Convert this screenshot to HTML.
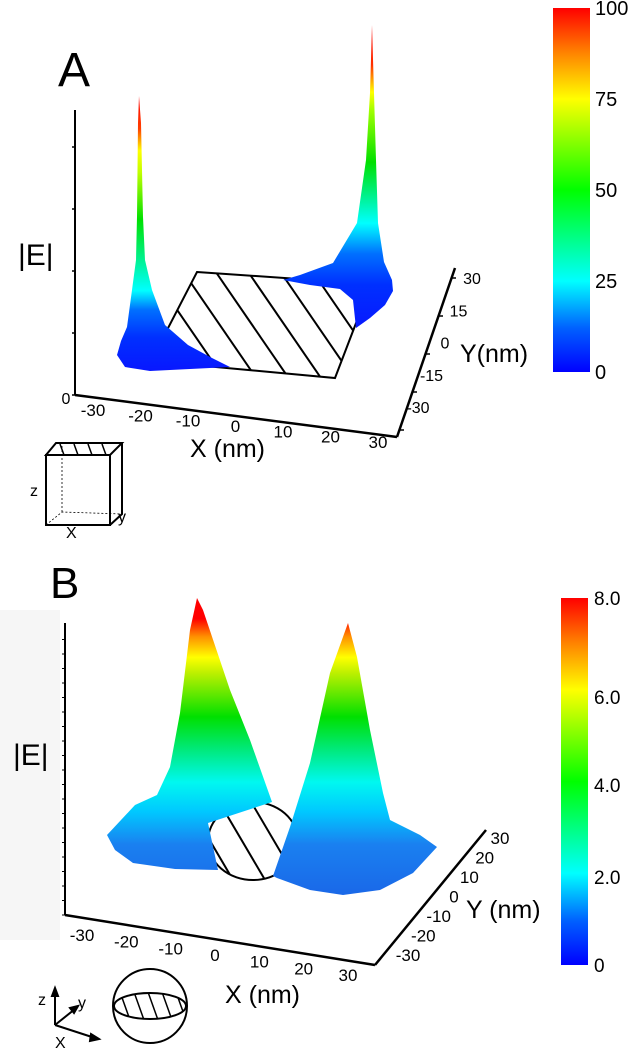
<!DOCTYPE html>
<html><head><meta charset="utf-8"><style>
html,body{margin:0;padding:0;background:#fff}
svg{display:block;font-family:"Liberation Sans",Arial,sans-serif}
</style></head><body>
<svg id="fig" width="636" height="1050" viewBox="0 0 636 1050">
<defs>
<linearGradient id="jetV" x1="0" y1="1" x2="0" y2="0">
<stop offset="0" stop-color="#0000ff"/><stop offset="0.12" stop-color="#0060ff"/><stop offset="0.25" stop-color="#00ffff"/><stop offset="0.5" stop-color="#00ff00"/><stop offset="0.75" stop-color="#ffff00"/><stop offset="0.88" stop-color="#ff8000"/><stop offset="1" stop-color="#ff0000"/>
</linearGradient>
<linearGradient id="gAL" gradientUnits="userSpaceOnUse" x1="0" y1="370" x2="0" y2="96">
<stop offset="0" stop-color="#0818ff"/><stop offset="0.12" stop-color="#0030ff"/><stop offset="0.22" stop-color="#0070ff"/><stop offset="0.29" stop-color="#00ffff"/><stop offset="0.55" stop-color="#00e000"/><stop offset="0.72" stop-color="#c0ff00"/><stop offset="0.8" stop-color="#ffff00"/><stop offset="0.88" stop-color="#ff4000"/><stop offset="1" stop-color="#ff0000"/>
</linearGradient>
<linearGradient id="gAR" gradientUnits="userSpaceOnUse" x1="0" y1="330" x2="0" y2="25">
<stop offset="0" stop-color="#0818ff"/><stop offset="0.15" stop-color="#0030ff"/><stop offset="0.25" stop-color="#0070ff"/><stop offset="0.35" stop-color="#00ffff"/><stop offset="0.55" stop-color="#00e000"/><stop offset="0.72" stop-color="#a0ff00"/><stop offset="0.78" stop-color="#ffff00"/><stop offset="0.87" stop-color="#ff3000"/><stop offset="1" stop-color="#ff0000"/>
</linearGradient>
<linearGradient id="gB" gradientUnits="userSpaceOnUse" x1="0" y1="895" x2="0" y2="598">
<stop offset="0" stop-color="#1a68e8"/><stop offset="0.17" stop-color="#1a80f0"/><stop offset="0.28" stop-color="#00c8ff"/><stop offset="0.38" stop-color="#00f8f0"/><stop offset="0.5" stop-color="#00e870"/><stop offset="0.6" stop-color="#00e000"/><stop offset="0.75" stop-color="#c0f000"/><stop offset="0.8" stop-color="#ffff00"/><stop offset="0.87" stop-color="#ff9000"/><stop offset="0.93" stop-color="#ff0000"/>
</linearGradient>
<clipPath id="clipPar"><polygon points="197,272 371,284 335,378 151,361"/></clipPath>
<clipPath id="clipEll"><ellipse cx="253" cy="841" rx="45" ry="39"/></clipPath>
<clipPath id="clipSph"><ellipse cx="150" cy="1006" rx="36" ry="13"/></clipPath>
</defs>

<rect x="0" y="610" width="60" height="330" fill="#f6f6f6"/>

<!-- Panel A -->
<text x="58" y="86" font-size="48">A</text>
<line x1="75" y1="110" x2="75" y2="395" stroke="#000" stroke-width="2"/>
<text x="18" y="265" font-size="30">|E|</text>
<line x1="75" y1="395" x2="397" y2="437" stroke="#000" stroke-width="2.5"/>
<line x1="397" y1="437" x2="455" y2="268" stroke="#000" stroke-width="2.5"/>
<text x="66" y="404" font-size="16" text-anchor="middle">0</text>
<text x="190" y="457" font-size="25">X (nm)</text>
<text x="460" y="362" font-size="25">Y(nm)</text>

<g>
<polygon points="197,272 371,284 335,378 151,361" fill="#fff" stroke="#000" stroke-width="2"/>
<g id="hatchA" clip-path="url(#clipPar)" stroke="#000" stroke-width="2"></g>
</g>
<polygon fill="url(#gAL)" points="139,96 141,123 143,217 145,260 152,290 165,325 188,345 212,358 230,367 190,369 150,371 125,367 117,355 121,341 127,327 132,290 136,260 137,217 138,123"/>
<polygon fill="url(#gAR)" points="372,25 374,93 376,160 378,223 384,262 392,280 393,291 385,305 370,318 356,328 353,300 340,289 310,285 283,280 300,275 333,263 357,223 366,160 370,93"/>

<rect x="553" y="8" width="37" height="364" fill="url(#jetV)"/>
<g id="cbA"></g>
<g id="axA"></g>

<!-- cube icon -->
<g stroke="#000" fill="none">
<polygon points="46,455 56,443 122,443 110,455" stroke-width="2" fill="#fff"/>
<g stroke-width="1.5"><line x1="60" y1="444" x2="64" y2="455"/><line x1="74" y1="444" x2="78" y2="455"/><line x1="88" y1="444" x2="92" y2="455"/><line x1="102" y1="444" x2="106" y2="455"/></g>
<rect x="46" y="455" width="64" height="70" stroke-width="2"/>
<polyline points="110,525 122,514 122,443" stroke-width="2"/>
<polyline points="46,525 62,512 122,514" stroke-width="0.8" stroke-dasharray="2,2"/>
<line x1="62" y1="512" x2="62" y2="445" stroke-width="0.8" stroke-dasharray="2,2"/>
<text x="30" y="496" font-size="16" fill="#000" stroke="none">z</text>
<text x="66" y="538" font-size="16" fill="#000" stroke="none">X</text>
<text x="118" y="522" font-size="16" fill="#000" stroke="none">y</text>
</g>

<!-- Panel B -->
<text x="50" y="598" font-size="44">B</text>
<line x1="65" y1="623" x2="65" y2="915" stroke="#000" stroke-width="2"/>
<text x="13" y="765" font-size="30">|E|</text>
<line x1="65" y1="915" x2="375" y2="965" stroke="#000" stroke-width="2.5"/>
<line x1="375" y1="965" x2="486" y2="830" stroke="#000" stroke-width="2.5"/>
<text x="225" y="1003" font-size="25">X (nm)</text>
<text x="466" y="918" font-size="25">Y (nm)</text>

<g>
<ellipse cx="253" cy="841" rx="45" ry="39" fill="#fff" stroke="#000" stroke-width="2"/>
<g id="hatchB" clip-path="url(#clipEll)" stroke="#000" stroke-width="2"></g>
</g>
<polygon fill="url(#gB)" points="197,598 190,630 180,713 170,767 157,795 135,805 107,835 115,850 133,863 175,869 218,870 208,823 272,802 250,740 230,690 203,610"/>
<polygon fill="url(#gB)" points="348,623 330,673 310,763 290,827 273,876 277,878 310,890 343,895 380,890 413,873 437,847 420,835 390,820 383,793 370,730 357,657"/>

<rect x="561" y="598" width="27" height="367" fill="url(#jetV)"/>
<g id="cbB"></g>
<g id="axB"></g>

<!-- sphere icon -->
<g stroke="#000" fill="none" stroke-width="2">
<line x1="55" y1="1025" x2="55" y2="993"/><polygon points="55,988 52,996 58,996" fill="#000"/>
<line x1="55" y1="1025" x2="75" y2="1009"/><polygon points="78,1006 70,1008 74,1013" fill="#000"/>
<line x1="55" y1="1025" x2="95" y2="1038"/><polygon points="99,1039 91,1034 90,1041" fill="#000"/>
<text x="38" y="1005" font-size="16" fill="#000" stroke="none">z</text>
<text x="78" y="1008" font-size="16" fill="#000" stroke="none">y</text>
<text x="55" y="1048" font-size="16" fill="#000" stroke="none">X</text>
<ellipse cx="150" cy="1006" rx="37" ry="37"/>
<ellipse cx="150" cy="1006" rx="36" ry="13" fill="#fff"/>
<g clip-path="url(#clipSph)" stroke-width="1.5"><line x1="120" y1="992" x2="130" y2="1020"/><line x1="134" y1="992" x2="144" y2="1020"/><line x1="148" y1="992" x2="158" y2="1020"/><line x1="162" y1="992" x2="172" y2="1020"/><line x1="176" y1="992" x2="186" y2="1020"/></g>
</g>
</svg>
<script>
const NS='http://www.w3.org/2000/svg';
const xTicksA=[-30,-20,-10,0,10,20,30];
const yTicksA=[-30,-15,0,15,30];
const cbTicksA=[0,25,50,75,100];
const xTicksB=[-30,-20,-10,0,10,20,30];
const yTicksB=[-30,-20,-10,0,10,20,30];
const cbTicksB=[0,2,4,6,8];
const cbLabelsB=['0','2.0','4.0','6.0','8.0'];
const cbPosB=[0,0.24,0.49,0.73,1];
function mk(tag,attrs,parent,txt){const e=document.createElementNS(NS,tag);for(const k in attrs)e.setAttribute(k,attrs[k]);if(txt!==undefined)e.textContent=txt;parent.appendChild(e);return e;}
const cbA=document.getElementById('cbA');
const cbAy=v=>372-v/100*364;
cbTicksA.forEach(v=>{const t=mk('text',{x:595,y:cbAy(v)+7,'font-size':20},cbA,String(v));

});
const cbB=document.getElementById('cbB');
const cbBy=i=>965-cbPosB[i]*367;
cbTicksB.forEach((v,i)=>{const t=mk('text',{x:594,y:cbBy(i)+7,'font-size':19},cbB,cbLabelsB[i]);

});
function axisLabels(g,ticks,fx,fy,name,lo,hi,fs){ticks.forEach(v=>{const f=(v-lo)/(hi-lo);const t=mk('text',{x:fx(f),y:fy(f),'font-size':fs,'text-anchor':'middle'},g,String(v));

});}
const axA=document.getElementById('axA');
axisLabels(axA,xTicksA,f=>93+f*285,f=>416+f*32,'panel-a-x',-30,30,17);
axisLabels(axA,yTicksA,f=>418+f*54,f=>413-f*129,'panel-a-y',-30,30,16);
yTicksA.forEach(v=>{const f=(v+30)/60;mk('line',{x1:400+f*52,y1:430-f*152,x2:404+f*52,y2:430-f*152,stroke:'#000','stroke-width':1.5},axA);});
for(let i=0;i<5;i++){mk('line',{x1:72,y1:395-i*62,x2:75,y2:395-i*62,stroke:'#000','stroke-width':1.5},axA);}
const axB=document.getElementById('axB');
axisLabels(axB,xTicksB,f=>82+f*266,f=>941+f*40,'panel-b-x',-30,30,17);
axisLabels(axB,yTicksB,f=>408+f*92,f=>961-f*117,'panel-b-y',-30,30,17);
for(let i=0;i<20;i++){mk('line',{x1:62,y1:915-i*14.5,x2:65,y2:915-i*14.5,stroke:'#000','stroke-width':1},axB);}
const hA=document.getElementById('hatchA');
for(let k=-5;k<7;k++){const x0=217+k*34;const y0=272+0.07*(x0-197);mk('line',{x1:x0-40,y1:y0-58,x2:x0+100,y2:y0+146},hA);}
const hB=document.getElementById('hatchB');
for(let i=-3;i<4;i++){const x0=243+i*32;mk('line',{x1:x0-25,y1:800,x2:x0+25,y2:885},hB);}
</script>
</body></html>
